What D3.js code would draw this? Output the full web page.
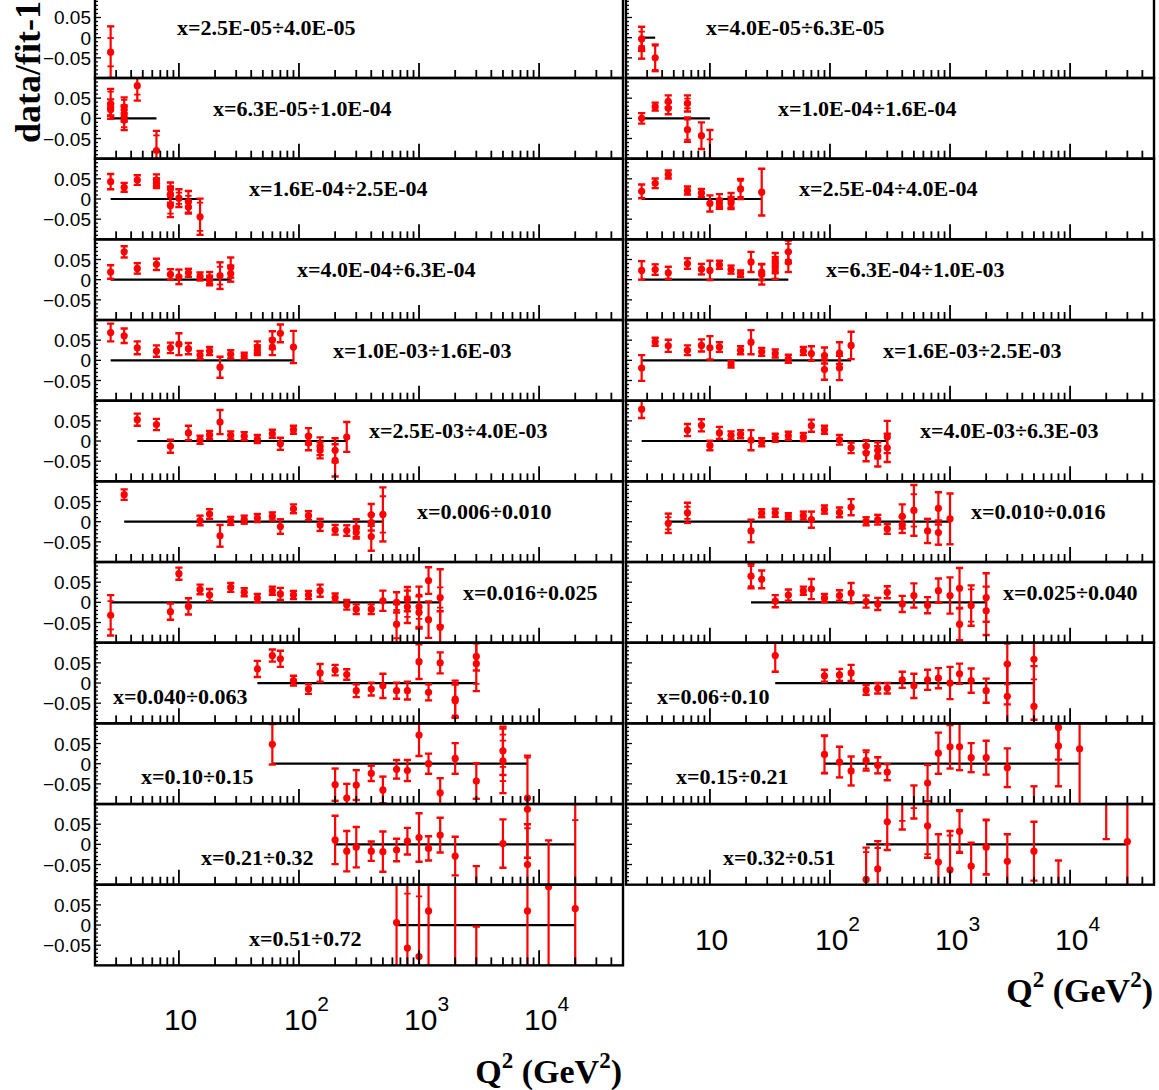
<!DOCTYPE html>
<html><head><meta charset="utf-8">
<script src="https://cdn.jsdelivr.net/npm/d3@7"></script>
<style>body{margin:0;background:#fff}svg{display:block}</style>
</head><body>
<svg id="c" width="1159" height="1090"></svg>
<script>
// ---------------- DATA ----------------
// bin labels (left column top->bottom, then right column top->bottom)
const binLabels = [
  "x=2.5E-05÷4.0E-05","x=6.3E-05÷1.0E-04","x=1.6E-04÷2.5E-04","x=4.0E-04÷6.3E-04",
  "x=1.0E-03÷1.6E-03","x=2.5E-03÷4.0E-03","x=0.006÷0.010","x=0.016÷0.025",
  "x=0.040÷0.063","x=0.10÷0.15","x=0.21÷0.32","x=0.51÷0.72",
  "x=4.0E-05÷6.3E-05","x=1.0E-04÷1.6E-04","x=2.5E-04÷4.0E-04","x=6.3E-04÷1.0E-03",
  "x=1.6E-03÷2.5E-03","x=4.0E-03÷6.3E-03","x=0.010÷0.016","x=0.025÷0.040",
  "x=0.06÷0.10","x=0.15÷0.21","x=0.32÷0.51"
];
// points: [Q2, data/fit-1, total error, stat error (optional)]
const d_L01 = [[2.7,-0.036,0.064,0.035]];
const d_L02 = [[2.7,0.036,0.037,0.03],[2.7,0.027,0.02],[2.7,0.021,0.015],[3.5,0.028,0.024,0.018],[3.5,0.012,0.02],[3.5,-0.004,0.025,0.018],[4.5,0.081,0.037,0.022],[6.5,-0.08,0.049,0.038]];
const d_L03 = [[2.7,0.043,0.019],[3.5,0.029,0.011],[4.5,0.047,0.012],[6.5,0.047,0.014],[6.5,0.039,0.012],[8.5,0.025,0.016],[8.5,0.011,0.02],[8.5,-0.016,0.029,0.02],[10,0.002,0.022,0.014],[12,-0.007,0.027,0.015],[12,-0.02,0.016],[15,-0.044,0.045,0.035]];
const d_L04 = [[2.7,0.019,0.017],[3.5,0.069,0.014],[4.5,0.028,0.013],[6.5,0.038,0.014],[8.5,0.013,0.013],[10,0.007,0.018],[12,0.017,0.01],[15,0.008,0.01],[18,0.004,0.015],[18,-0.002,0.012],[22,0.01,0.033,0.022],[27,0.03,0.025],[27,0.015,0.02]];
const d_L05 = [[2.7,0.069,0.022],[3.5,0.061,0.018],[4.5,0.031,0.016],[6.5,0.023,0.014],[8.5,0.031,0.013],[10,0.04,0.027],[12,0.029,0.014],[15,0.013,0.01],[18,0.023,0.01],[22,-0.017,0.026],[27,0.015,0.01],[35,0.011,0.008],[45,0.033,0.014],[45,0.025,0.012],[60,0.05,0.022],[60,0.033,0.02],[70,0.067,0.022],[90,0.033,0.04]];
const d_L06 = [[4.5,0.053,0.015],[6.5,0.041,0.014],[8.5,-0.013,0.016],[12,0.02,0.018],[15,0.003,0.01],[18,0.015,0.01],[22,0.047,0.03],[27,0.014,0.01],[35,0.012,0.01],[45,0.005,0.01],[60,0.018,0.01],[70,-0.007,0.015],[90,0.028,0.01],[120,0.012,0.02],[120,-0.005,0.018],[150,-0.013,0.022],[150,-0.023,0.02],[200,-0.023,0.03],[200,-0.048,0.04],[250,0.01,0.037]];
const d_L07 = [[3.5,0.067,0.013],[15,0.003,0.012],[18,0.019,0.012],[22,-0.035,0.027],[27,0.002,0.01],[35,0.005,0.01],[45,0.009,0.01],[60,0.013,0.01],[70,-0.012,0.018],[90,0.032,0.011],[120,0.015,0.011],[150,-0.008,0.015],[200,-0.02,0.012],[250,-0.022,0.013],[300,-0.016,0.022],[300,-0.027,0.015],[400,0.017,0.027],[400,-0.002,0.02],[400,-0.037,0.035],[500,0.018,0.067,0.045]];
const d_L08 = [[2.7,-0.032,0.05,0.035],[6.5,0.115,0.013],[8.5,-0.023,0.02],[10,0.071,0.015],[12,-0.01,0.02],[15,0.032,0.012],[18,0.018,0.015],[27,0.037,0.011],[35,0.025,0.01],[45,0.011,0.01],[60,0.029,0.01],[70,0.021,0.015],[90,0.018,0.01],[120,0.018,0.01],[150,0.029,0.015],[200,0.012,0.01],[250,-0.006,0.012],[300,-0.017,0.012],[400,-0.017,0.012],[500,0.004,0.025],[650,0.0,0.025],[650,-0.054,0.05,0.035],[800,0.008,0.03],[800,-0.011,0.04,0.025],[1000,-0.011,0.05,0.03],[1000,-0.025,0.04],[1200,0.054,0.033],[1200,-0.043,0.045],[1500,0.012,0.07,0.025],[1500,-0.062,0.04]];
const d_L09 = [[45,0.035,0.02],[60,0.068,0.015],[70,0.06,0.02],[90,0.006,0.012],[120,-0.015,0.012],[150,0.025,0.022],[200,0.032,0.013],[250,0.021,0.013],[300,-0.019,0.016],[400,-0.015,0.016],[500,-0.007,0.03],[650,-0.019,0.02],[800,-0.019,0.022],[1000,0.053,0.043],[1200,-0.023,0.02],[1500,0.05,0.026],[2000,-0.04,0.046,0.04],[2000,-0.044,0.04],[3000,0.066,0.035],[3000,0.048,0.068,0.05]];
const d_L10 = [[60,0.048,0.05],[200,-0.052,0.04],[250,-0.085,0.035],[300,-0.053,0.037],[400,-0.024,0.019],[500,-0.065,0.033],[650,-0.014,0.023],[800,-0.017,0.026],[1000,0.071,0.052],[1200,0.0,0.025],[1500,-0.072,0.036],[2000,0.013,0.038],[3000,-0.043,0.044],[5000,0.032,0.06,0.04],[5000,0.007,0.08,0.05],[8000,-0.085,0.105,0.1]];
const d_L11 = [[200,0.011,0.06],[250,-0.017,0.05],[300,-0.007,0.05],[400,-0.017,0.024],[500,-0.018,0.05],[650,-0.014,0.028],[800,0.008,0.033],[1000,0.017,0.06],[1200,-0.01,0.03],[1500,0.023,0.043],[2000,-0.029,0.048],[3000,-0.12,0.066],[5000,0.002,0.06],[8000,0.087,0.12,0.047],[8000,-0.05,0.1],[12000,-0.12,0.13],[20000,-0.13,0.23,0.19]];
const d_L12 = [[650,0.006,0.2],[800,-0.057,0.2,0.135],[1000,-0.078,0.2,0.149],[1200,0.035,0.2],[2000,0.15,0.3],[3000,-0.15,0.146],[8000,0.035,0.2],[12000,0.095,0.25],[20000,0.041,0.2]];
const d_R01 = [[2.7,-0.003,0.03,0.018],[2.7,-0.027,0.025],[3.5,-0.05,0.033,0.03]];
const d_R02 = [[2.7,0.0,0.013],[3.5,0.029,0.01],[4.5,0.042,0.015],[4.5,0.025,0.015],[6.5,0.037,0.02,0.012],[6.5,-0.028,0.03,0.025],[8.5,-0.043,0.033],[10,-0.105,0.076,0.053]];
const d_R03 = [[2.7,0.019,0.017],[3.5,0.039,0.012],[4.5,0.061,0.01],[6.5,0.021,0.01],[8.5,0.015,0.01],[10,-0.011,0.02],[12,-0.004,0.016],[12,-0.012,0.012],[15,-0.003,0.018],[15,-0.01,0.015],[18,0.025,0.025,0.02],[27,0.017,0.058]];
const d_R04 = [[2.7,0.023,0.023],[3.5,0.025,0.013],[4.5,0.017,0.015],[6.5,0.04,0.013],[8.5,0.026,0.013],[10,0.023,0.024],[12,0.037,0.01],[15,0.025,0.01],[18,0.015,0.008],[22,0.044,0.025],[27,0.019,0.02],[27,0.013,0.025],[35,0.048,0.018],[35,0.036,0.02],[35,0.022,0.02],[45,0.069,0.028,0.02],[45,0.044,0.025]];
const d_R05 = [[2.7,-0.019,0.032],[3.5,0.046,0.01],[4.5,0.036,0.015],[6.5,0.025,0.012],[8.5,0.037,0.015],[10,0.031,0.029],[12,0.033,0.012],[15,-0.01,0.008],[18,0.025,0.01],[22,0.045,0.03],[27,0.021,0.01],[35,0.017,0.01],[45,0.004,0.01],[60,0.023,0.01],[70,0.017,0.018],[90,0.012,0.02],[90,-0.023,0.025],[120,0.018,0.027],[120,-0.019,0.03],[150,0.037,0.034]];
const d_R06 = [[2.7,0.079,0.022],[6.5,0.027,0.015],[8.5,0.039,0.015],[10,-0.011,0.012],[12,0.02,0.015],[15,0.014,0.01],[18,0.017,0.01],[22,0.002,0.025],[27,-0.003,0.01],[35,0.008,0.01],[45,0.013,0.01],[60,0.01,0.01],[70,0.038,0.015],[90,0.028,0.01],[120,0.003,0.012],[150,-0.017,0.013],[200,-0.013,0.015],[200,-0.03,0.02],[250,-0.023,0.02],[250,-0.038,0.025],[300,0.01,0.04],[300,-0.017,0.035]];
const d_R07 = [[4.5,-0.004,0.024,0.015],[6.5,0.022,0.025,0.015],[22,-0.023,0.028],[27,0.021,0.01],[35,0.022,0.01],[45,0.013,0.008],[60,0.015,0.01],[70,0.005,0.02],[90,0.03,0.01],[120,0.023,0.012],[150,0.036,0.02],[200,0.001,0.01],[250,0.005,0.012],[300,-0.018,0.012],[400,0.013,0.03],[400,-0.008,0.02],[500,0.028,0.063,0.04],[650,-0.023,0.03],[800,0.033,0.04],[800,-0.027,0.03],[1000,0.007,0.063]];
const d_R08 = [[22,0.065,0.03,0.025],[27,0.057,0.022],[35,0.003,0.015],[45,0.018,0.014],[60,0.029,0.01],[70,0.033,0.025],[90,0.011,0.01],[120,0.017,0.013],[150,0.023,0.025],[200,0.002,0.015],[250,-0.004,0.015],[300,0.025,0.015],[400,-0.004,0.02],[500,0.017,0.03],[650,-0.007,0.02],[800,0.029,0.03],[1000,0.017,0.045],[1200,0.035,0.05],[1200,-0.054,0.04],[1500,-0.008,0.05,0.04],[2000,0.012,0.06],[2000,-0.021,0.06]];
const d_R09 = [[35,0.068,0.04,0.04],[90,0.018,0.015],[120,0.02,0.015],[150,0.025,0.02],[200,-0.017,0.012],[250,-0.013,0.013],[300,-0.013,0.013],[400,0.008,0.02],[500,-0.007,0.03],[650,0.008,0.025],[800,0.012,0.025],[1000,0.0,0.04],[1200,0.023,0.025],[1500,0.006,0.03],[2000,-0.019,0.03],[3000,0.047,0.1,0.05],[3000,-0.033,0.08],[5000,0.059,0.15,0.05],[5000,-0.058,0.1]];
const d_R10 = [[90,0.023,0.047,0.045],[120,0.004,0.038],[150,-0.018,0.036],[200,0.008,0.025,0.02],[250,-0.004,0.02],[300,-0.021,0.02],[500,-0.12,0.066],[650,-0.048,0.045],[800,0.026,0.051],[1000,0.042,0.054],[1200,0.042,0.058],[1500,0.015,0.036],[2000,0.015,0.042],[3000,-0.01,0.048],[5000,-0.12,0.064],[8000,0.09,0.08],[8000,0.044,0.1],[12000,0.037,0.2]];
const d_R11 = [[200,-0.087,0.079,0.068],[250,-0.061,0.069,0.052],[300,0.056,0.07,0.056],[400,0.12,0.083,0.062],[500,0.12,0.056,0.03],[650,0.046,0.079,0.07],[800,-0.044,0.069],[1000,-0.063,0.096,0.085],[1200,0.032,0.053,0.05],[1500,-0.054,0.058],[2000,-0.007,0.068,0.066],[3000,-0.042,0.067],[5000,-0.017,0.073],[8000,-0.12,0.08],[20000,0.12,0.107],[30000,0.007,0.2]];
// Q2 range of the fit line drawn at 0 in each bin
const fitLo = [2.7,2.7,2.7,2.7,2.7,4.5,3.5,2.7,45,60,200,650, 2.7,2.7,2.7,2.7,2.7,2.7,4.5,22,35,90,200];
const fitHi = [2.7,6.5,15,27,90,250,500,1500,3000,8000,20000,20000, 3.5,10,27,45,150,300,1000,2000,5000,12000,30000];
// axes
const q2Domain = [2, 50000];
const ratioDomain = [-0.1, 0.1];
const xTickValues = [10, 100, 1000, 10000];
const xTickExp = ["", "2", "3", "4"];
const yTickValues = [0.05, 0, -0.05];
const yTickLabels = ["0.05", "0", "\u22120.05"];
const yTitle = "data/fit-1";
const xTitle = ["Q", "2", " (GeV", "2", ")"];

// ---------------- LAYOUT ----------------
const colLeft = [95, 626], panelW = 528, rowTop = -2.67, rowH = 80.67;
const labelX = [177,213,249,297,333,369,417,463,113,141,201,249, 706,778,799,826,883,920,971,1003,657,676,723];
const RED = "#ff0000";
const allData = [d_L01,d_L02,d_L03,d_L04,d_L05,d_L06,d_L07,d_L08,d_L09,d_L10,d_L11,d_L12,
                 d_R01,d_R02,d_R03,d_R04,d_R05,d_R06,d_R07,d_R08,d_R09,d_R10,d_R11];

const svg = d3.select("#c");
const defs = svg.append("defs");
const gContent = svg.append("g");
const gFrames = svg.append("g");

allData.forEach((pts, i) => {
  const col = i < 12 ? 0 : 1, row = i < 12 ? i : i - 12;
  const x0 = colLeft[col], y0 = rowTop + row * rowH;
  const x = d3.scaleLog().domain(q2Domain).range([x0, x0 + panelW]);
  const y = d3.scaleLinear().domain(ratioDomain).range([y0 + rowH, y0]);

  defs.append("clipPath").attr("id", "cp" + i)
    .append("rect").attr("x", x0).attr("y", y0).attr("width", panelW).attr("height", rowH);

  const g = gContent.append("g").attr("clip-path", "url(#cp" + i + ")");

  // label
  g.append("text").attr("x", labelX[i]).attr("y", y0 + (row >= 8 ? 61 : 37.5))
    .attr("font-family", "Liberation Serif, Times New Roman, serif").attr("font-weight", "bold")
    .attr("font-size", 22).attr("fill", "#000").text(binLabels[i]);

  // fit line
  g.append("line").attr("x1", x(fitLo[i])).attr("x2", x(fitHi[i]))
    .attr("y1", y(0)).attr("y2", y(0)).attr("stroke", "#000").attr("stroke-width", 2.2);

  // error bars
  const eb = g.append("g").attr("stroke", RED).attr("stroke-width", 2.2);
  pts.forEach(p => {
    const [q, v, e, s] = p;
    const cx = x(q);
    eb.append("line").attr("x1", cx).attr("x2", cx).attr("y1", y(v - e)).attr("y2", y(v + e));
    [v - e, v + e].forEach(t => eb.append("line").attr("x1", cx - 3.6).attr("x2", cx + 3.6)
      .attr("y1", y(t)).attr("y2", y(t)).attr("stroke-width", 2.4));
    if (s !== undefined) {
      [v - s, v + s].forEach(t => eb.append("line").attr("x1", cx - 3.2).attr("x2", cx + 3.2)
        .attr("y1", y(t)).attr("y2", y(t)).attr("stroke-width", 1.8));
    }
  });
  g.selectAll("circle.pt").data(pts).enter().append("circle")
    .attr("cx", d => x(d[0])).attr("cy", d => y(d[1])).attr("r", 3.6).attr("fill", RED);

  // frame + ticks
  const f = gFrames.append("g").attr("stroke", "#000");
  x.ticks().forEach(t => {
    const lg = Math.log10(t);
    const major = Math.abs(lg - Math.round(lg)) < 1e-9;
    if (t <= q2Domain[0] || t >= q2Domain[1]) return;
    f.append("line").attr("x1", x(t)).attr("x2", x(t))
      .attr("y1", y(ratioDomain[0])).attr("y2", y(ratioDomain[0]) - (major ? 15 : 8)).attr("stroke-width", 1.8);
  });
  for (let k = -9; k <= 9; k++) {
    const v = k / 100, major = k % 5 === 0;
    f.append("line").attr("x1", x0).attr("x2", x0 + (major ? 6 : 3))
      .attr("y1", y(v)).attr("y2", y(v)).attr("stroke-width", 1.3);
  }
  f.append("rect").attr("x", x0).attr("y", y0).attr("width", panelW).attr("height", rowH)
    .attr("fill", "none").attr("stroke-width", 2.4);

  // y tick labels (left column only)
  if (col === 0) {
    yTickValues.forEach((v, k) => {
      svg.append("text").attr("x", 91).attr("y", y(v) + 7).attr("text-anchor", "end")
        .attr("font-family", "Liberation Sans, Arial, sans-serif").attr("font-size", 19)
        .text(yTickLabels[k]);
    });
  }

  // x tick labels + title under the last panel of each column
  const last = (col === 0 && row === 11) || (col === 1 && row === 10);
  if (last) {
    const base = y0 + rowH + 65;
    xTickValues.forEach((t, k) => {
      const tx = svg.append("text").attr("x", x(t) - 15).attr("y", base)
        .attr("font-family", "Liberation Sans, Arial, sans-serif").attr("font-size", 30);
      tx.append("tspan").text("10");
      if (xTickExp[k]) tx.append("tspan").attr("font-size", 21).attr("dy", -19).text(xTickExp[k]);
    });
    const tt = svg.append("text").attr("x", x0 + panelW - 1).attr("y", base + (col === 0 ? 53 : 52))
      .attr("text-anchor", "end").attr("font-family", "Liberation Serif, Times New Roman, serif")
      .attr("font-weight", "bold").attr("font-size", 34);
    tt.append("tspan").text(xTitle[0]);
    tt.append("tspan").attr("font-size", 23).attr("dy", -15).text(xTitle[1]);
    tt.append("tspan").attr("dy", 15).text(xTitle[2]);
    tt.append("tspan").attr("font-size", 23).attr("dy", -15).text(xTitle[3]);
    tt.append("tspan").attr("dy", 15).text(xTitle[4]);
  }
});

// y title
svg.append("text").attr("transform", "translate(40,143) rotate(-90)")
  .attr("font-family", "Liberation Serif, Times New Roman, serif").attr("font-weight", "bold")
  .attr("font-size", 36).text(yTitle);
</script>
</body></html>
